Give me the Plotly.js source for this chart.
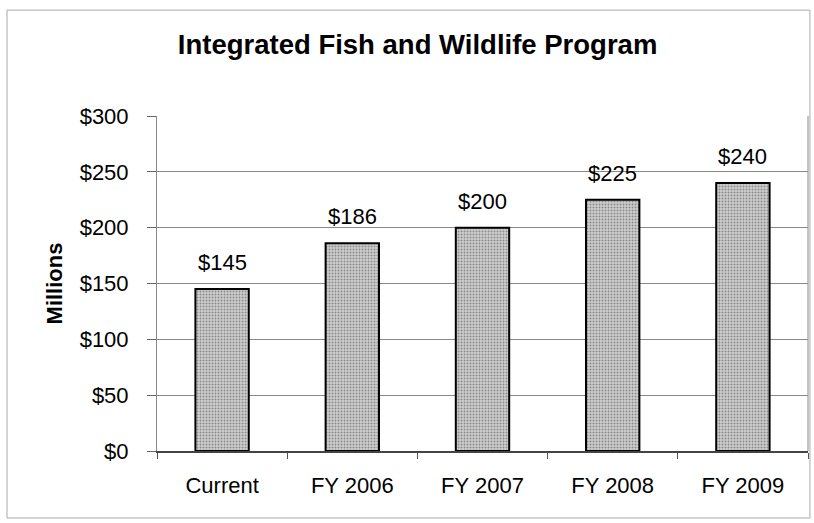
<!DOCTYPE html>
<html><head><meta charset="utf-8">
<script src="https://cdn.plot.ly/plotly-3.0.1.min.js"></script>
<style>body{margin:0;background:#fff}#c{width:814px;height:523px}</style>
</head><body><div id="c"></div>
<script>
var categories = ["Current", "FY 2006", "FY 2007", "FY 2008", "FY 2009"];
var values = [145, 186, 200, 225, 240];
var labels = ["$145", "$186", "$200", "$225", "$240"];
var tickVals = [0, 50, 100, 150, 200, 250, 300];
var tickText = ["$0", "$50", "$100", "$150", "$200", "$250", "$300"];

var FONT = "Liberation Sans, Arial, sans-serif";
var trace = {
  type: "bar", x: categories, y: values,
  marker: {color: "#c6c6c6", line: {color: "#000", width: 2},
    pattern: {shape: ".", fgcolor: "#8a8a8a", bgcolor: "#d0d0d0", size: 3, solidity: 0.35}},
  hoverinfo: "none"
};
var annotations = categories.map(function (c, i) {
  return {x: c, y: values[i], text: labels[i], showarrow: false, yanchor: "bottom", yshift: 12,
    font: {family: FONT, size: 22, color: "#000"}};
});
var layout = {
  width: 814, height: 523,
  margin: {l: 157, r: 6, t: 116, b: 72},
  paper_bgcolor: "#fff", plot_bgcolor: "#fff",
  showlegend: false, bargap: 0.59,
  font: {family: FONT, color: "#000"},
  title: {text: "<b>Integrated Fish and Wildlife Program</b>", x: 0.513, xref: "container", y: 0.915, yanchor: "middle",
    font: {size: 27.5, family: FONT, color: "#000"}},
  xaxis: {tickfont: {size: 22}, ticks: "outside", tickson: "boundaries", ticklen: 6, tickcolor: "#555",
    ticklabelstandoff: 14,
    showline: true, linecolor: "#444", linewidth: 2, mirror: false, showgrid: false},
  yaxis: {range: [0, 300], tickvals: tickVals, ticktext: tickText, tickfont: {size: 22},
    ticks: "outside", ticklen: 9, tickcolor: "#666", ticklabelstandoff: 14,
    showgrid: true, gridcolor: "#888", gridwidth: 1,
    showline: true, linecolor: "#888", linewidth: 1, zeroline: false,
    title: {text: "<b>Millions</b>", font: {size: 22}, standoff: 10}},
  annotations: annotations,
  shapes: [
    {type: "line", xref: "paper", yref: "paper", x0: 1, x1: 1, y0: 0, y1: 1, line: {color: "#888", width: 1}},
    {type: "rect", xref: "paper", yref: "paper", x0: -0.2304, x1: 1.003, y0: -0.2, y1: 1.316, line: {color: "#aaa", width: 1}}
  ]
};
Plotly.newPlot("c", [trace], layout, {displayModeBar: false, staticPlot: true});
</script></body></html>
